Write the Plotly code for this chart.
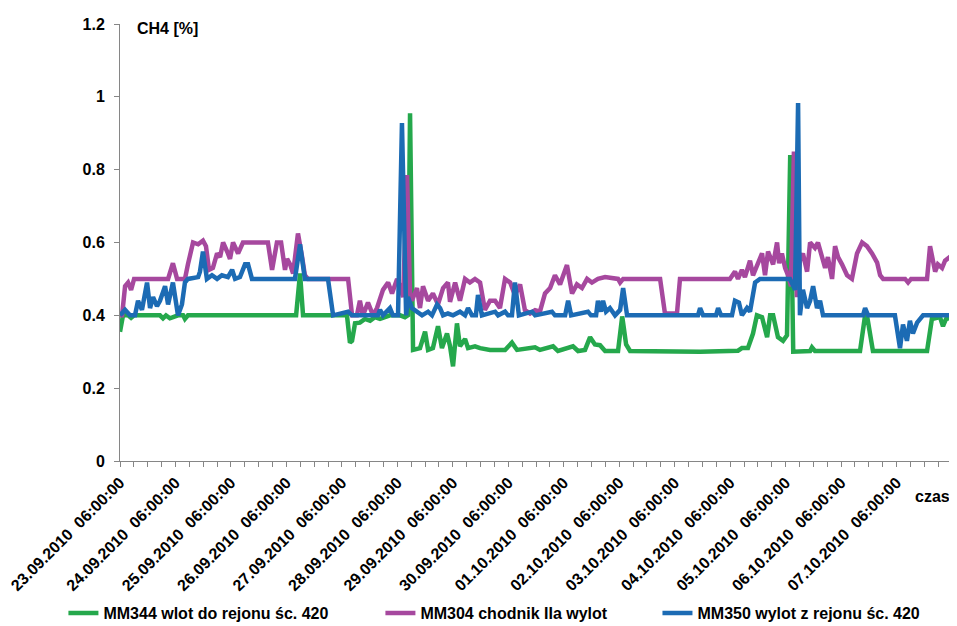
import plotly.graph_objects as go
from datetime import datetime, timedelta

START = datetime(2010, 9, 23, 6, 0, 0)

# hours after 23.09.2010 06:00:00
mm344_h = [0, 1.3, 3.5, 4.8, 6.1, 17.3, 18.6, 19.9, 21.6, 23.4, 25.1, 27.3, 28.1, 29.4,
           76.2, 77.9, 79.2, 98.2, 99.5, 100.4, 101.7, 103.8, 106.0, 108.2, 110.3, 112.5,
           116.8, 121.2, 123.3, 124.6, 125.5, 126.8, 129.8, 132.0, 133.3, 135.4, 137.6,
           139.3, 141.5, 142.8, 144.1, 145.8, 147.1, 149.3, 150.6, 153.6, 155.8, 160.1,
           166.6, 169.6, 171.8, 179.6, 181.7, 187.4, 189.5, 196.0, 198.2, 201.2, 203.4,
           205.5, 207.7, 209.9, 215.5, 217.3, 219.0, 220.7, 251.0, 267.4, 269.1, 271.7,
           273.9, 275.6, 277.8, 280.0, 281.3, 282.6, 284.7, 286.9, 288.6, 290.0, 291.3,
           298.6, 299.4, 300.7, 320.2, 322.4, 323.2, 325.8, 349.2, 351.3, 354.8, 356.1,
           357.4, 360.0]
mm344_v = [0.355, 0.40, 0.40, 0.393, 0.40, 0.40, 0.392, 0.40, 0.392, 0.395, 0.40, 0.40, 0.39, 0.40,
           0.40, 0.515, 0.40, 0.40, 0.325, 0.33, 0.378, 0.38, 0.39, 0.385, 0.395, 0.39,
           0.40, 0.40, 0.395, 0.40, 0.955, 0.305, 0.31, 0.355, 0.305, 0.31, 0.37,
           0.31, 0.35, 0.315, 0.26, 0.378, 0.315, 0.335, 0.31, 0.315, 0.31, 0.305,
           0.305, 0.325, 0.305, 0.312, 0.305, 0.315, 0.302, 0.315, 0.302, 0.305, 0.34,
           0.32, 0.318, 0.302, 0.302, 0.397, 0.32, 0.302, 0.30, 0.303, 0.31, 0.31,
           0.35, 0.40, 0.395, 0.34, 0.40, 0.40, 0.34, 0.33, 0.345, 0.84, 0.30,
           0.302, 0.312, 0.302, 0.302, 0.40, 0.40, 0.302, 0.302, 0.39, 0.395, 0.37,
           0.39, 0.395]

mm304_h = [0, 0.9, 2.2, 3.5, 4.8, 6.1, 20.8, 22.9, 24.7, 28.1, 29.4, 31.6, 33.8, 35.9, 37.2,
           38.5, 40.2, 42.0, 43.3, 44.6, 46.7, 47.6, 48.9, 51.1, 53.2, 64.0, 65.8, 67.9,
           69.7, 71.4, 72.3, 73.6, 74.9, 77.0, 78.8, 80.0, 81.3, 98.7, 100.4, 102.5, 103.8,
           105.1, 107.3, 109.5, 111.2, 112.5, 113.8, 116.0, 117.7, 119.9, 121.2, 122.5,
           124.2, 125.5, 126.3, 128.5, 129.8, 131.1, 133.3, 135.4, 137.6, 139.8, 141.9,
           142.8, 145.0, 147.1, 149.3, 151.4, 153.6, 155.8, 157.9, 160.1, 162.3, 164.4,
           166.6, 168.8, 170.9, 173.1, 175.2, 177.4, 179.6, 181.7, 183.9, 186.1, 188.2,
           190.4, 193.4, 195.6, 197.7, 199.9, 202.1, 204.2, 206.8, 209.9, 215.5, 216.4,
           217.7, 233.7, 235.8, 241.0, 242.3, 263.9, 266.1, 267.4, 269.1, 270.4, 272.6,
           273.9, 276.1, 277.8, 279.1, 280.4, 282.6, 284.3, 285.2, 286.4, 287.8, 289.1,
           290.3, 291.6, 292.9, 294.2, 295.5, 297.3, 298.6, 300.7, 302.0, 303.8, 305.1,
           306.3, 308.1, 309.4, 310.7, 312.4, 314.6, 316.7, 318.9, 321.1, 323.2, 325.4,
           327.6, 328.9, 330.2, 339.7, 341.0, 342.3, 349.2, 350.5, 352.7, 353.9, 355.7,
           357.0, 359.1, 360.0]
mm304_v = [0.40, 0.40, 0.48, 0.49, 0.47, 0.50, 0.50, 0.543, 0.50, 0.50, 0.54, 0.60, 0.595, 0.605, 0.59,
           0.525, 0.53, 0.57, 0.56, 0.60, 0.57, 0.555, 0.60, 0.57, 0.60, 0.60, 0.525, 0.60,
           0.60, 0.525, 0.555, 0.54, 0.515, 0.625, 0.56, 0.51, 0.50, 0.50, 0.40, 0.40, 0.44,
           0.40, 0.435, 0.40, 0.42, 0.45, 0.47, 0.49, 0.46, 0.50, 0.48, 0.45,
           0.785, 0.46, 0.44, 0.475, 0.42, 0.48, 0.44, 0.46, 0.43, 0.475, 0.49,
           0.437, 0.49, 0.44, 0.50, 0.49, 0.50, 0.49, 0.415, 0.44, 0.44, 0.42,
           0.50, 0.49, 0.455, 0.485, 0.414, 0.405, 0.414, 0.41, 0.46, 0.475, 0.51,
           0.485, 0.538, 0.46, 0.485, 0.475, 0.50, 0.49, 0.50, 0.505, 0.50, 0.49,
           0.50, 0.50, 0.405, 0.405, 0.50, 0.50, 0.52, 0.50, 0.525, 0.505, 0.55,
           0.51, 0.545, 0.57, 0.51, 0.575, 0.54, 0.60, 0.543, 0.57, 0.53, 0.51,
           0.48, 0.85, 0.45, 0.55, 0.57, 0.52, 0.60, 0.585, 0.60, 0.56, 0.53,
           0.56, 0.50, 0.59, 0.56, 0.54, 0.51, 0.50, 0.57, 0.60, 0.59, 0.57,
           0.545, 0.51, 0.50, 0.50, 0.49, 0.50, 0.50, 0.59, 0.52, 0.54, 0.53,
           0.55, 0.56, 0.565]

mm350_h = [0, 2.2, 4.3, 6.5, 7.8, 9.5, 11.7, 13.0, 14.3, 16.0, 17.3, 19.5, 20.8, 22.9, 25.1,
           26.8, 28.1, 29.4, 33.8, 34.6, 35.9, 37.6, 39.8, 42.0, 44.1, 46.7, 48.5, 49.8,
           51.9, 54.1, 55.4, 57.1, 75.7, 77.9, 80.0, 90.0, 92.2, 98.7, 100.4, 111.6, 112.5,
           113.8, 116.8, 118.1, 120.3, 122.0, 123.8, 124.6, 126.3, 128.5, 130.7, 133.3,
           135.0, 137.2, 138.5, 139.8, 141.9, 144.1, 147.1, 149.3, 150.6, 152.3, 154.0,
           154.9, 156.6, 162.3, 163.6, 166.6, 167.9, 169.6, 170.9, 172.6, 178.3, 179.6,
           186.9, 188.2, 192.6, 193.9, 195.2, 202.5, 203.8, 206.0, 206.8, 208.1, 209.0,
           210.3, 212.0, 214.2, 216.4, 217.7, 219.4, 250.1, 251.0, 252.3, 257.9, 258.8,
           260.1, 264.8, 266.1, 267.8, 269.1, 271.3, 272.6, 274.8, 276.9, 289.9, 292.1,
           293.4, 294.2, 295.5, 297.3, 298.6, 299.9, 301.6, 302.9, 304.2, 321.5, 322.4,
           323.7, 335.3, 337.5, 338.8, 340.5, 341.8, 343.1, 344.9, 346.2, 347.5, 360.0]
mm350_v = [0.40, 0.415, 0.40, 0.40, 0.44, 0.415, 0.49, 0.42, 0.45, 0.425, 0.44, 0.48, 0.43, 0.49, 0.40,
           0.43, 0.49, 0.50, 0.505, 0.52, 0.575, 0.50, 0.51, 0.50, 0.51, 0.505, 0.525, 0.50,
           0.505, 0.54, 0.54, 0.50, 0.50, 0.595, 0.50, 0.50, 0.40, 0.41, 0.40, 0.40, 0.415,
           0.40, 0.42, 0.40, 0.40, 0.928, 0.40, 0.45, 0.42, 0.41, 0.40, 0.41,
           0.40, 0.43, 0.42, 0.40, 0.405, 0.40, 0.41, 0.40, 0.42, 0.40, 0.40,
           0.456, 0.40, 0.41, 0.40, 0.41, 0.40, 0.40, 0.49, 0.40, 0.41, 0.40,
           0.41, 0.40, 0.40, 0.44, 0.40, 0.41, 0.40, 0.40, 0.44, 0.41, 0.44,
           0.41, 0.42, 0.40, 0.415, 0.475, 0.40, 0.40, 0.42, 0.40, 0.40, 0.42,
           0.40, 0.40, 0.44, 0.435, 0.40, 0.42, 0.41, 0.49, 0.50, 0.50, 0.47,
           0.983, 0.40, 0.47, 0.42, 0.44, 0.48, 0.42, 0.44, 0.40, 0.40, 0.42,
           0.40, 0.40, 0.31, 0.375, 0.33, 0.385, 0.35, 0.38, 0.39, 0.40, 0.40]

names = ["MM344 wlot do rejonu śc. 420", "MM304 chodnik IIa wylot", "MM350 wylot z rejonu śc. 420"]
colors = ["#25A84C", "#A6489E", "#1C6BB4"]
legend_ids = ["legend", "legend2", "legend3"]
y_ticks = [0, 0.2, 0.4, 0.6, 0.8, 1.0, 1.2]

def to_dt(hours):
    return [START + timedelta(hours=h) for h in hours]

series = [(mm344_h, mm344_v), (mm304_h, mm304_v), (mm350_h, mm350_v)]

fig = go.Figure()
for (hh, vv), name, col, lg in zip(series, names, colors, legend_ids):
    fig.add_trace(go.Scatter(x=to_dt(hh), y=vv, mode="lines", name=name,
                             line=dict(color=col, width=4.5), legend=lg))

tick_vals = [START + timedelta(hours=6 * i) for i in range(61)]
tick_text = [(t.strftime("%d.%m.%Y") + "\u00a0\u00a0" + t.strftime("%H:%M:%S"))
             if (i % 4 == 0 and i < 60) else "" for i, t in enumerate(tick_vals)]

font = dict(family="Arial, Liberation Sans, sans-serif", size=16, color="black", weight="bold")
axis_col = "#868686"

leg_common = dict(orientation="h", yanchor="middle", y=-0.348, xanchor="left",
                  font=font, bgcolor="rgba(0,0,0,0)", borderwidth=0, itemwidth=30)

# the page body has an 8px margin, so the figure is sized to the visible area
fig.update_layout(
    width=949, height=618,
    margin=dict(l=112, r=5, t=16, b=165, autoexpand=False),
    plot_bgcolor="white", paper_bgcolor="white",
    font=font,
    showlegend=True,
    legend=dict(x=-0.068, **leg_common),
    legend2=dict(x=0.313, **leg_common),
    legend3=dict(x=0.646, **leg_common),
    xaxis=dict(range=[START, START + timedelta(hours=360)],
               tickmode="array", tickvals=tick_vals, ticktext=tick_text,
               tickangle=-45, ticks="outside", ticklen=5, tickcolor=axis_col,
               showline=True, linecolor=axis_col, linewidth=1, automargin=False,
               ticklabeloverflow="allow",
               showgrid=False, zeroline=False, tickfont=font),
    yaxis=dict(range=[0, 1.2], tickmode="array", tickvals=y_ticks,
               ticks="outside", ticklen=5, tickcolor=axis_col,
               showline=True, linecolor=axis_col, linewidth=1, automargin=False,
               showgrid=False, zeroline=False, tickfont=font, ticklabelstandoff=6),
    annotations=[
        dict(text="CH4 [%]", xref="paper", yref="paper", x=0.018, y=0.989,
             xanchor="left", yanchor="middle", showarrow=False, font=font),
        dict(text="czas", xref="paper", yref="paper", x=1.0, y=-0.082,
             xanchor="right", yanchor="middle", showarrow=False, font=font),
    ],
)

fig.write_html("out.html")
